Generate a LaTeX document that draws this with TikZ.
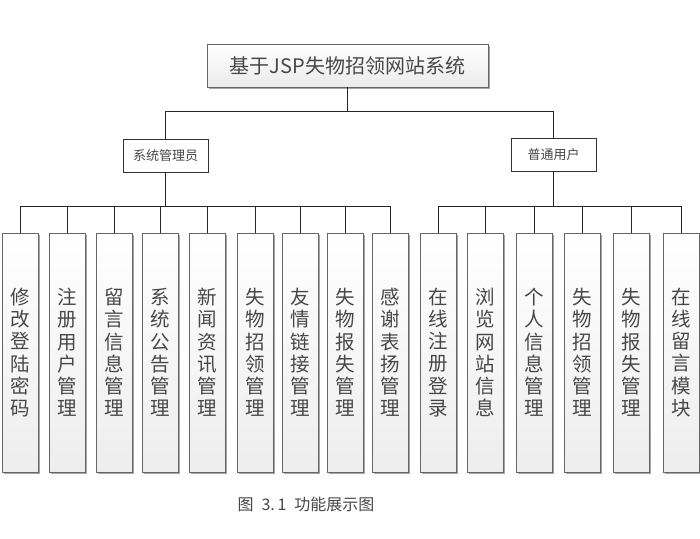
\documentclass[tikz,border=0pt]{standalone}
\usepackage{fontspec}
\setmainfont{Noto Sans CJK SC}
\usepackage{xcolor}
\usetikzlibrary{shadows}

\begin{document}
\begin{tikzpicture}[x=1pt, y=-1pt,
    every node/.style={text=black!72, inner sep=0pt},
    topbox/.style={draw=black!60, top color=white, bottom color=black!8,
      minimum width=281pt, minimum height=43pt, font=\fontsize{20}{24}\selectfont,
      drop shadow={shadow xshift=1.5pt, shadow yshift=-1.5pt, fill=black!35, opacity=1}},
    rolebox/.style={draw=black!80, fill=white, minimum width=85pt,
      minimum height=33pt, font=\fontsize{13}{15}\selectfont},
    leafbox/.style={draw=black!60, top color=white, bottom color=black!7,
      minimum width=36pt, minimum height=239pt, align=center,
      font=\fontsize{19.5}{22.2}\selectfont,
      drop shadow={shadow xshift=1.5pt, shadow yshift=-1.5pt, fill=black!35, opacity=1}},
    link/.style={draw=black!85, line width=0.8pt}]
  \useasboundingbox (0,0) rectangle (700,538);

  \node[topbox] (root) at (347.5,65.5) {基于JSP失物招领网站系统};
  \node[rolebox] (admin) at (165.5,155.5) {系统管理员};
  \node[rolebox] (user) at (553.5,154.5) {普通用户};

  \foreach \x/\i/\t in {20/1/{修\\改\\登\\陆\\密\\码}, 67/2/{注\\册\\用\\户\\管\\理},
      114/3/{留\\言\\信\\息\\管\\理}, 160.5/4/{系\\统\\公\\告\\管\\理},
      207.5/5/{新\\闻\\资\\讯\\管\\理}, 255/6/{失\\物\\招\\领\\管\\理},
      300/7/{友\\情\\链\\接\\管\\理}, 345.5/8/{失\\物\\报\\失\\管\\理},
      390/9/{感\\谢\\表\\扬\\管\\理}}
    \node[leafbox] (a\i) at (\x,352.5) {\t};

  \foreach \x/\i/\t in {438/1/{在\\线\\注\\册\\登\\录}, 485.5/2/{浏\\览\\网\\站\\信\\息},
      534/3/{个\\人\\信\\息\\管\\理}, 582/4/{失\\物\\招\\领\\管\\理},
      631.5/5/{失\\物\\报\\失\\管\\理}, 681/6/{在\\线\\留\\言\\模\\块}}
    \node[leafbox] (u\i) at (\x,352.5) {\t};

  \draw[link] (root.south) -- ++(0,24) coordinate (rb);
  \draw[link] (admin.north) |- (rb) -| (user.north);
  \draw[link] (admin.south) -- ++(0,34) coordinate (ab);
  \draw[link] (user.south) -- ++(0,35) coordinate (ub);
  \foreach \i in {1,...,9}
    \draw[link] (ab) -| (a\i.north);
  \foreach \i in {1,...,6}
    \draw[link] (ub) -| (u\i.north);

  \node[font=\fontsize{16}{18}\selectfont] (cap) at (306,504) {图\enspace 3.\,1\enspace 功能展示图};
\end{tikzpicture}
\end{document}
